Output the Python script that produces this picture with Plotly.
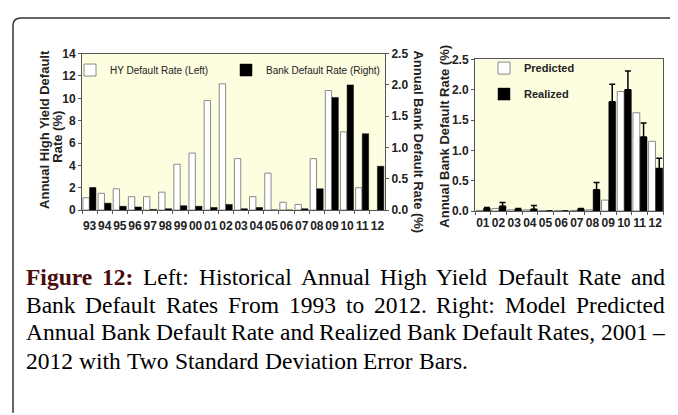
"""Recreate Figure 12: HY vs bank default rates, and predicted vs realized bank default rates"""

import plotly.graph_objects as go

# the page body keeps its 8px default margin, so the figure is drawn 8px in
PAGE_W, PAGE_H, BODY = 678, 415, 8
W, H = PAGE_W - BODY, PAGE_H - BODY

# left panel: 1993 - 2012
years_left = ["93", "94", "95", "96", "97", "98", "99", "00", "01", "02",
              "03", "04", "05", "06", "07", "08", "09", "10", "11", "12"]
hy_rate = [1.1, 1.5, 1.9, 1.2, 1.2, 1.6, 4.1, 5.1, 9.8, 11.3,
           4.6, 1.2, 3.3, 0.7, 0.5, 4.6, 10.7, 7.0, 2.0, None]
bank_rate = [0.36, 0.11, 0.06, 0.05, 0.01, 0.02, 0.07, 0.06, 0.04, 0.09,
             0.02, 0.04, 0.0, 0.0, 0.02, 0.34, 1.8, 2.0, 1.22, 0.7]

# right panel: 2001 - 2012
years_right = ["01", "02", "03", "04", "05", "06", "07", "08", "09", "10", "11", "12"]
predicted = [0.01, 0.04, 0.02, 0.02, 0.01, 0.01, 0.01, 0.02, 0.18, 1.97, 1.62, 1.15]
realized = [0.04, 0.08, 0.03, 0.03, 0.0, 0.0, 0.03, 0.35, 1.8, 2.0, 1.22, 0.7]
realized_err = [0.02, 0.06, 0.01, 0.06, 0.0, 0.0, 0.01, 0.12, 0.29, 0.31, 0.23, 0.17]

caption_lines = [
    "Figure 12: Left: Historical Annual High Yield Default Rate and",
    "Bank Default Rates From 1993 to 2012. Right: Model Predicted",
    "Annual Bank Default Rate and Realized Bank Default Rates, 2001 \u2013",
    "2012 with Two Standard Deviation Error Bars.",
]
caption_justify = [True, True, True, False]
caption_bold = {"Figure", "12:"}

SANS = "Liberation Sans Narrow, Arial Narrow, Liberation Sans, Arial"
TITLE = "Liberation Sans, Arial"
SERIF = "Liberation Serif, Times New Roman"
INK = "#222222"
AXIS = "#555555"

# Times / Liberation Serif advance widths (1/1000 em), used to justify the caption
TIMES = dict(zip("abcdefghijklmnopqrstuvwxyz",
                 [444, 500, 444, 500, 444, 333, 500, 500, 278, 278, 500, 278, 778,
                  500, 500, 500, 500, 333, 389, 278, 500, 500, 722, 500, 500, 444]))
TIMES.update(zip("ABCDEFGHIJKLMNOPQRSTUVWXYZ",
                 [722, 667, 667, 722, 611, 556, 722, 722, 333, 389, 722, 611, 889,
                  722, 722, 556, 722, 667, 556, 611, 722, 722, 944, 722, 722, 611]))
TIMES.update({c: 500 for c in "0123456789"})
TIMES.update({".": 250, ",": 250, ":": 278, "\u2013": 500, "(": 333, ")": 333, " ": 250})
TIMES_BOLD = {"F": 611, "i": 278, "g": 500, "u": 556, "r": 444, "e": 444,
              "1": 500, "2": 500, ":": 333}


def px(x):
    """page pixel -> paper x"""
    return (x - BODY) / W


def py(y):
    """page pixel -> paper y"""
    return 1 - (y - BODY) / H


def word_width(word, size, bold=False):
    table = TIMES_BOLD if bold else TIMES
    return sum(table.get(c, 500) for c in word) * size / 1000


fig = go.Figure()

fig.add_bar(
    x=years_left, y=hy_rate, name="HY Default Rate (Left)",
    marker=dict(color="white", line=dict(color="#8a8a8a", width=1)),
    offset=-0.44, width=0.42, xaxis="x", yaxis="y", legend="legend",
)
fig.add_bar(
    x=years_left, y=bank_rate, name="Bank Default Rate (Right)",
    marker=dict(color="black", line=dict(color="black", width=0.5)),
    offset=0.0, width=0.42, xaxis="x", yaxis="y2", legend="legend2",
)
fig.add_bar(
    x=years_right, y=predicted, name="Predicted",
    marker=dict(color="white", line=dict(color="#8a8a8a", width=1)),
    offset=-0.42, width=0.44, xaxis="x3", yaxis="y3", legend="legend3",
    legendgroup="p",
)
fig.add_bar(
    x=years_right, y=realized, name="Realized",
    marker=dict(color="black", line=dict(color="black", width=0.5)),
    error_y=dict(type="data", array=realized_err, symmetric=False,
                 arrayminus=[0] * len(realized_err),
                 color="black", thickness=1.5, width=3),
    offset=0.04, width=0.44, xaxis="x3", yaxis="y3", legend="legend3",
    legendgroup="r",
)

tick_font = dict(family=SANS, size=12, color=INK, weight="bold")
x_common = dict(type="category", showline=True, linecolor=AXIS, linewidth=1,
                mirror=True, ticks="outside", tickson="boundaries", ticklen=3,
                tickcolor=AXIS, tickfont=tick_font, tickangle=0, showgrid=False)
y_common = dict(showline=True, linecolor=AXIS, linewidth=1, ticks="outside",
                ticklen=3, tickcolor=AXIS, tickfont=tick_font, showgrid=False,
                zeroline=False)

annotations = [
    dict(text="Annual High Yield Default", x=px(45), y=py(127), textangle=-90),
    dict(text="Rate (%)", x=px(58), y=py(134), textangle=-90),
    dict(text="Annual Bank Default Rate (%)", x=px(419), y=py(140), textangle=90),
    dict(text="Annual Bank Default Rate (%)", x=px(445), y=py(134), textangle=-90),
]
for a in annotations:
    a.update(xref="paper", yref="paper", showarrow=False,
             xanchor="center", yanchor="middle",
             font=dict(family=TITLE, size=13, color=INK, weight="bold"))

# justified caption, placed word by word
cap_left, cap_right, cap_size = 26, 665, 23.5
cap_y = [279, 308, 336, 366]
for i, line in enumerate(caption_lines):
    words = line.split(" ")
    bolds = [i == 0 and w in caption_bold for w in words]
    widths = [word_width(w, cap_size, b) for w, b in zip(words, bolds)]
    if caption_justify[i]:
        gap = (cap_right - cap_left - sum(widths)) / (len(words) - 1)
    else:
        gap = 250 * cap_size / 1000
    x = cap_left
    for j, (w, b, wd) in enumerate(zip(words, bolds, widths)):
        last = caption_justify[i] and j == len(words) - 1
        annotations.append(dict(
            text=w, x=px(cap_right if last else x), y=py(cap_y[i]),
            xref="paper", yref="paper", showarrow=False,
            xanchor="right" if last else "left", yanchor="middle",
            borderpad=0, borderwidth=0,
            font=dict(family=SERIF, size=cap_size,
                      color="#4a0c0c" if b else "black",
                      weight="bold" if b else "normal"),
        ))
        x += wd + gap

# page frame with a rounded top-left corner, running off the right and bottom
frame = "M {} {} L {} {} Q {} {} {} {} L {} {}".format(
    px(13), py(420), px(13), py(19), px(13), py(11), px(21), py(11), px(690), py(11))

legend_style = dict(bgcolor="rgba(0,0,0,0)", borderwidth=0, itemwidth=30,
                    xanchor="left", yanchor="top")

fig.update_layout(
    width=W, height=H, autosize=False,
    margin=dict(l=0, r=0, t=0, b=0),
    paper_bgcolor="white", plot_bgcolor="#fdfde0",
    xaxis=dict(x_common, domain=[px(82), px(385)], range=[-0.5, 19.5], anchor="y",
               ticklabelstandoff=5),
    yaxis=dict(y_common, domain=[py(210), py(48)], range=[0, 14], dtick=2,
               mirror=True, anchor="x"),
    yaxis2=dict(y_common, overlaying="y", side="right", range=[0, 2.5],
                dtick=0.5, tickformat=".1f", anchor="x"),
    xaxis3=dict(x_common, domain=[px(475), px(663)], range=[-0.5, 11.5], anchor="y3",
                ticklabelstandoff=1),
    yaxis3=dict(y_common, domain=[py(211), py(54)], range=[0, 2.5], dtick=0.5,
                tickformat=".1f", mirror=True, anchor="x3"),
    legend=dict(legend_style, x=px(70), y=py(50),
                font=dict(family=TITLE, size=10, color=INK)),
    legend2=dict(legend_style, x=px(226), y=py(50),
                 font=dict(family=TITLE, size=10, color=INK)),
    legend3=dict(legend_style, x=px(484), y=py(48), tracegroupgap=7,
                 font=dict(family=SANS, size=11, color=INK, weight="bold")),
    annotations=annotations,
    shapes=[dict(type="path", path=frame, xref="paper", yref="paper",
                 line=dict(color="#333333", width=1.5))],
    showlegend=True,
)

fig.write_html("out.html")
